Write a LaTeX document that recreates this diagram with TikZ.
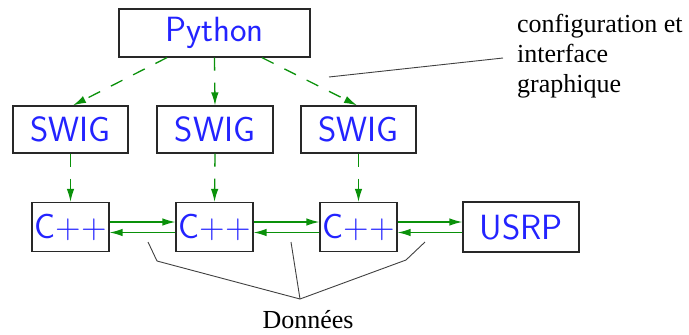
\documentclass[tikz,border=0pt]{standalone}
\usepackage{fontspec}
\newfontfamily\serifann{Liberation Serif}
\usetikzlibrary{arrows.meta}
\definecolor{arrgreen}{RGB}{10,145,10}
\definecolor{txtblue}{RGB}{35,35,255}
\definecolor{boxgray}{RGB}{40,40,40}
\tikzset{
  box/.style={draw=boxgray, line width=1.2pt, inner sep=0pt, text=txtblue,
    font=\sffamily\fontsize{35}{40}\selectfont},
  dasharrow/.style={draw=arrgreen, line width=1.3pt, dash pattern=on 13pt off 12pt,
    -{Latex[length=13pt,width=7.5pt]}},
  flowarrow/.style={draw=arrgreen, line width=1.3pt, -{Latex[length=13pt,width=7.5pt]}},
  annline/.style={draw=black!75, line width=0.9pt},
  anntext/.style={inner sep=0pt, font=\serifann\fontsize{26}{30}\selectfont}
}
\begin{document}
\begin{tikzpicture}[x=1pt,y=-1pt]
\useasboundingbox (0,0) rectangle (689,335);
\node[box, minimum width=191pt, minimum height=48pt] (py) at (214.5,33) {Python};
\node[box, minimum width=115pt, minimum height=47pt] (sw1) at (70.5,129.5) {SWIG};
\node[box, minimum width=116pt, minimum height=47pt] (sw2) at (215,129.5) {SWIG};
\node[box, minimum width=115pt, minimum height=47pt] (sw3) at (358.5,129.5) {SWIG};
\node[box, minimum width=77pt, minimum height=49pt] (c1) at (70.5,227) {C++};
\node[box, minimum width=77pt, minimum height=49pt] (c2) at (214.5,227) {C++};
\node[box, minimum width=77pt, minimum height=49pt] (c3) at (358.5,227) {C++};
\node[box, minimum width=116pt, minimum height=50pt] (usrp) at (521,227) {USRP};
% Python -> SWIG
\draw[dasharrow] ([xshift=-47.5pt]py.south) -- ([xshift=2.5pt]sw1.north);
\draw[dasharrow] ([xshift=0pt]py.south) -- (sw2.north);
\draw[dasharrow] ([xshift=47.5pt]py.south) -- ([xshift=-1.5pt]sw3.north);
% SWIG -> C++
\draw[dasharrow] (sw1.south) -- (c1.north);
\draw[dasharrow] (sw2.south) -- (c2.north);
\draw[dasharrow] (sw3.south) -- (c3.north);
% data flow
\draw[flowarrow] ([yshift=5pt]c1.east) -- ([yshift=5pt]c2.west);
\draw[flowarrow] ([yshift=-5.5pt]c2.west) -- ([yshift=-5.5pt]c1.east);
\draw[flowarrow] ([yshift=5pt]c2.east) -- ([yshift=5pt]c3.west);
\draw[flowarrow] ([yshift=-5.5pt]c3.west) -- ([yshift=-5.5pt]c2.east);
\draw[flowarrow] ([yshift=5pt]c3.east) -- ([yshift=5pt]usrp.west);
\draw[flowarrow] ([yshift=-5.5pt]usrp.west) -- ([yshift=-5.5pt]c3.east);
% annotation
\node[anntext, anchor=north west, align=left] (cfg) at (517,14) {configuration et\\interface\\graphique};
\coordinate (la) at (329,77);
\coordinate (lb) at (503,58);
\draw[annline] (la) -- (lb);
% Données
\node[anntext, anchor=base] (don) at (308,328) {Données};
\coordinate (apex) at (300,299);
\coordinate (d1) at (148,242);
\coordinate (b1) at (157,261);
\coordinate (d2) at (291,242);
\coordinate (d3) at (425,242);
\coordinate (b3) at (406,260);
\draw[annline] (d1) -- (b1) -- (apex);
\draw[annline] (d2) -- (apex);
\draw[annline] (d3) -- (b3) -- (apex);
\end{tikzpicture}
\end{document}
